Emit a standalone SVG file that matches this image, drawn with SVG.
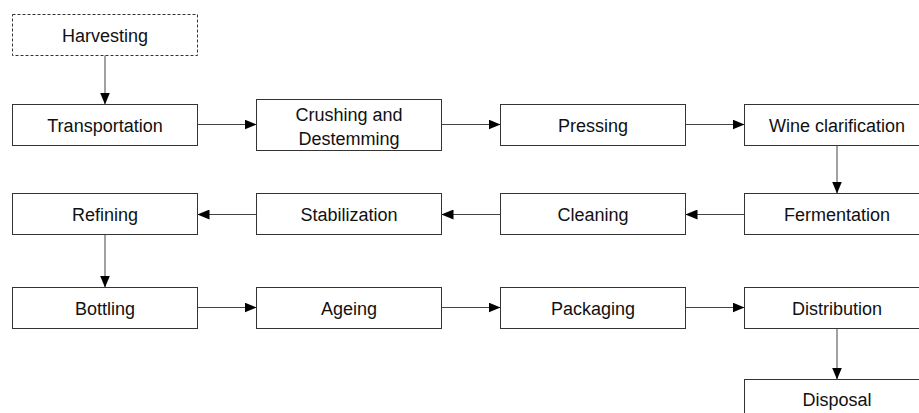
<svg xmlns="http://www.w3.org/2000/svg" width="919" height="413" viewBox="0 0 919 413">
<style>
rect.box{fill:#fff;stroke:#333;stroke-width:1}
rect.dash{stroke-dasharray:3,2}
text{font-family:"Liberation Sans",Arial,sans-serif;font-size:18px;fill:#111;text-anchor:middle}
.conn line{stroke:#444;stroke-width:1;marker-end:url(#ah)}
</style>
<defs>
<marker id="ah" markerUnits="userSpaceOnUse" markerWidth="12" markerHeight="10" refX="12" refY="5" orient="auto">
<path d="M0,0 L12,5 L0,10 Z" fill="#000"/>
</marker>
</defs>
<rect width="919" height="413" fill="#fff"/>
<g id="harvesting"><rect class="box dash" x="12.5" y="14.5" width="185" height="41"/><text x="105" y="41.5">Harvesting</text></g>
<g id="transportation"><rect class="box" x="12.5" y="104.5" width="185" height="41"/><text x="105" y="131.5">Transportation</text></g>
<g id="crushing"><rect class="box" x="256.5" y="99.5" width="185" height="51"/><text x="349" y="121">Crushing and</text><text x="349" y="144.5">Destemming</text></g>
<g id="pressing"><rect class="box" x="500.5" y="104.5" width="185" height="41"/><text x="593" y="131.5">Pressing</text></g>
<g id="clarification"><rect class="box" x="744.5" y="104.5" width="186" height="41"/><text x="837" y="131.5">Wine clarification</text></g>
<g id="fermentation"><rect class="box" x="744.5" y="193.5" width="186" height="41"/><text x="837" y="220.5">Fermentation</text></g>
<g id="cleaning"><rect class="box" x="500.5" y="193.5" width="185" height="41"/><text x="593" y="220.5">Cleaning</text></g>
<g id="stabilization"><rect class="box" x="256.5" y="193.5" width="185" height="41"/><text x="349" y="220.5">Stabilization</text></g>
<g id="refining"><rect class="box" x="12.5" y="193.5" width="185" height="41"/><text x="105" y="220.5">Refining</text></g>
<g id="bottling"><rect class="box" x="12.5" y="287.5" width="185" height="41"/><text x="105" y="314.5">Bottling</text></g>
<g id="ageing"><rect class="box" x="256.5" y="287.5" width="185" height="41"/><text x="349" y="314.5">Ageing</text></g>
<g id="packaging"><rect class="box" x="500.5" y="287.5" width="185" height="41"/><text x="593" y="314.5">Packaging</text></g>
<g id="distribution"><rect class="box" x="744.5" y="287.5" width="186" height="41"/><text x="837" y="314.5">Distribution</text></g>
<g id="disposal"><rect class="box" x="744.5" y="379.5" width="186" height="41"/><text x="837" y="406">Disposal</text></g>
<g id="connectors" class="conn">
<line x1="105" y1="55.5" x2="105" y2="104.5"/>
<line x1="197.5" y1="124.5" x2="256.5" y2="124.5"/>
<line x1="441.5" y1="124.5" x2="500.5" y2="124.5"/>
<line x1="685.5" y1="124.5" x2="744.5" y2="124.5"/>
<line x1="837" y1="145.5" x2="837" y2="193.5"/>
<line x1="744.5" y1="214.5" x2="685.5" y2="214.5"/>
<line x1="500.5" y1="214.5" x2="441.5" y2="214.5"/>
<line x1="256.5" y1="214.5" x2="197.5" y2="214.5"/>
<line x1="105" y1="234.5" x2="105" y2="287.5"/>
<line x1="197.5" y1="307.5" x2="256.5" y2="307.5"/>
<line x1="441.5" y1="307.5" x2="500.5" y2="307.5"/>
<line x1="685.5" y1="307.5" x2="744.5" y2="307.5"/>
<line x1="837" y1="328.5" x2="837" y2="379.5"/>
</g>
</svg>
